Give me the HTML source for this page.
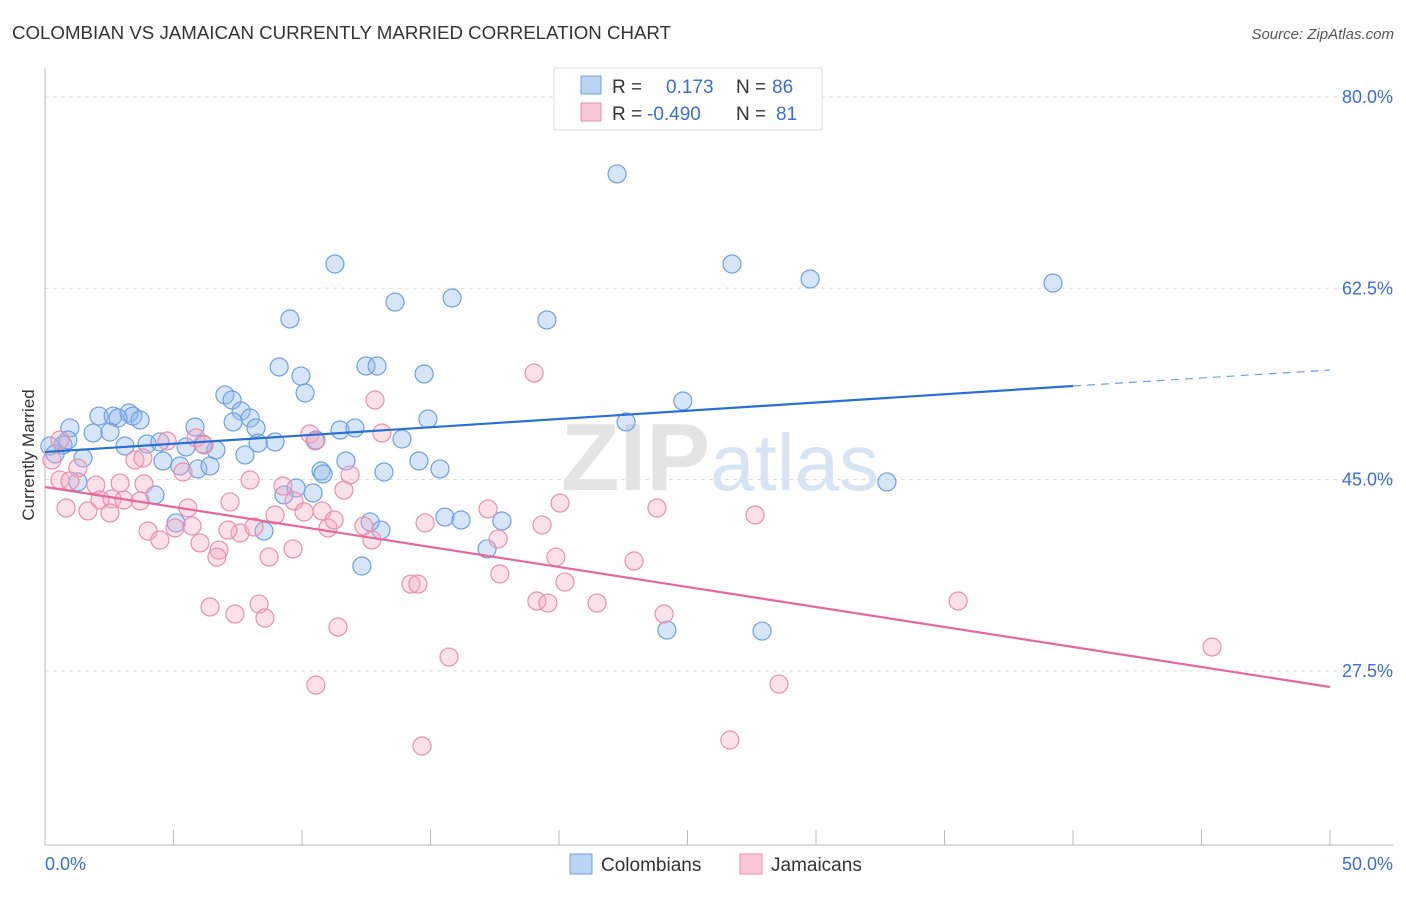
<!DOCTYPE html>
<html><head><meta charset="utf-8"><style>
body{margin:0;background:#fff;font-family:"Liberation Sans",sans-serif;}
svg text{font-family:"Liberation Sans",sans-serif;}
</style></head><body>
<svg id="chart" width="1406" height="892">
<text x="12" y="39" font-size="18" fill="#333" textLength="659" lengthAdjust="spacingAndGlyphs">COLOMBIAN VS JAMAICAN CURRENTLY MARRIED CORRELATION CHART</text>
<text x="1394" y="39" font-size="15" fill="#555" font-style="italic" text-anchor="end">Source: ZipAtlas.com</text>
<g id="grid"></g>
<text x="720" y="490" font-size="96" fill="#e4e4e4" text-anchor="middle" font-weight="bold" font-family="Liberation Serif">ZIP<tspan fill="#d6e4f4" font-family="Liberation Sans" font-weight="normal" font-size="80">atlas</tspan></text>
<g id="pts"></g>
<g id="lines"></g>
<text transform="translate(34,455) rotate(-90)" font-size="17" fill="#333" text-anchor="middle">Currently Married</text>
<g>
<rect x="554" y="68" width="268" height="62" fill="#fff" stroke="#ddd"/>
<rect x="581" y="76" width="20" height="18" fill="#bcd4f4" stroke="#6fa0e0"/>
<rect x="581" y="103" width="20" height="18" fill="#fbc8d8" stroke="#e890ad"/>
<text x="612" y="93" font-size="19" fill="#333">R = <tspan x="666" fill="#3a6fd0">0.173</tspan><tspan x="736" fill="#333">N = </tspan><tspan x="772" fill="#3a6fd0">86</tspan></text>
<text x="612" y="120" font-size="19" fill="#333">R = <tspan x="647" fill="#3a6fd0">-0.490</tspan><tspan x="736" fill="#333">N = </tspan><tspan x="776" fill="#3a6fd0">81</tspan></text>
</g>
<g>
<rect x="570" y="854" width="22" height="20" fill="#bcd4f4" stroke="#6fa0e0"/>
<text x="601" y="871" font-size="19" fill="#333">Colombians</text>
<rect x="740" y="854" width="22" height="20" fill="#fbc8d8" stroke="#e890ad"/>
<text x="771" y="871" font-size="19" fill="#333">Jamaicans</text>
</g>
</svg>
<script>
const yTicks=[80,62.5,45,27.5];
const yTickLabels=["80.0%","62.5%","45.0%","27.5%"];
const xTickLabels=["0.0%","50.0%"];
const blueX=[22.26,11.28,26.73,29.77,39.22,15.84,13.62,9.53,19.53,9.11,12.49,12.92,14.75,9.96,10.12,7.00,7.28,24.82,7.63,7.98,14.90,5.84,0.97,2.10,2.65,3.27,3.42,3.70,2.84,1.87,2.53,7.32,8.21,11.48,12.06,13.89,22.61,10.54,8.95,8.29,3.11,3.97,4.47,5.49,6.15,6.65,7.78,0.70,0.19,0.39,1.48,4.59,5.25,5.95,6.42,11.71,14.55,15.37,13.19,10.74,10.82,32.76,1.28,4.28,9.30,9.77,10.43,15.56,16.19,17.78,12.65,13.07,8.52,5.10,17.20,12.33,24.20,27.90,0.89];
const blueY=[72.96,64.72,64.72,63.35,62.98,61.61,61.24,59.69,59.60,55.30,55.39,55.39,54.66,54.47,52.92,52.74,52.28,52.19,51.27,50.63,50.54,49.81,49.72,50.81,50.81,51.09,50.81,50.45,50.63,49.26,49.35,50.27,49.72,49.53,49.72,48.71,50.27,48.62,48.44,48.34,48.07,48.25,48.44,47.98,48.25,47.70,47.25,48.16,48.07,47.34,46.97,46.70,46.24,45.97,46.24,46.70,46.70,45.97,45.69,45.78,45.51,44.78,44.78,43.59,43.59,44.23,43.77,41.57,41.30,41.21,41.12,40.38,40.29,41.03,38.65,37.09,31.23,31.14,48.62];
const pinkX=[19.03,12.84,10.31,13.11,10.51,0.58,0.27,1.28,3.50,5.37,5.88,6.19,4.75,3.81,11.87,11.63,7.98,7.20,9.26,9.69,0.58,0.97,1.98,2.92,3.85,2.14,2.61,3.07,0.82,1.67,2.53,3.70,5.56,5.06,4.01,4.47,6.03,6.77,6.69,7.59,8.13,8.72,8.95,9.65,10.08,10.78,11.01,11.25,12.41,12.72,14.79,17.24,17.63,20.04,19.34,19.88,17.70,14.24,14.51,20.23,19.14,19.57,21.48,22.92,23.81,24.09,27.63,35.53,45.41,6.42,7.39,8.33,8.56,11.40,15.72,10.54,28.56,14.67,26.65,5.72,7.12];
const pinkY=[54.75,52.28,49.17,49.26,48.53,48.62,46.79,46.06,46.79,45.69,48.80,48.16,48.53,46.97,45.42,44.04,44.96,42.95,44.41,43.04,44.96,44.87,44.50,44.68,44.59,43.13,43.22,43.13,42.40,42.13,41.94,43.04,42.40,40.57,40.29,39.47,39.20,38.55,37.91,40.11,40.66,37.91,41.76,38.65,42.04,42.13,40.57,41.30,40.75,39.47,41.03,42.31,39.56,42.85,40.84,37.91,36.36,35.44,35.44,35.62,33.89,33.70,33.70,37.55,42.40,32.70,41.76,33.89,29.68,33.34,32.70,33.61,32.33,31.51,28.76,26.20,26.29,20.62,21.17,40.75,40.38];
const blueTrend=[47.52,53.56,55.02];
const pinkTrend=[44.32,26.02];
const X=v=>45+v/50*1285;
const Y=v=>97+(80-v)*10.93;
const NS="http://www.w3.org/2000/svg";
function mk(t,a,p){const e=document.createElementNS(NS,t);for(const k in a)e.setAttribute(k,a[k]);p.appendChild(e);return e;}
const grid=document.getElementById('grid');
yTicks.forEach((t,i)=>{
 const l=mk('line',{x1:45,x2:1393,y1:Y(t),y2:Y(t),stroke:'#ddd','stroke-dasharray':'4,4'},grid);
 
 
 const tx=mk('text',{x:1393,y:Y(t)+6,'font-size':18,fill:'#3a6fd0','text-anchor':'end'},grid);
 tx.textContent=yTickLabels[i];
 
 
});
const ax=mk('line',{x1:45,x2:45,y1:68,y2:845,stroke:'#bbb'},grid);


const bx=mk('line',{x1:45,x2:1393,y1:845,y2:845,stroke:'#bbb'},grid);


for(let i=0;i<=10;i++){
 const t=mk('line',{x1:X(i*5),x2:X(i*5),y1:830,y2:845,stroke:'#bbb'},grid);
 
 
}
[[0,'start',45],[50,'end',1393]].forEach((d,i)=>{
 const tx=mk('text',{x:d[2],y:870,'font-size':18,fill:'#3a6fd0','text-anchor':d[1]},grid);
 tx.textContent=xTickLabels[i];
 
 
});
const pts=document.getElementById('pts');
blueX.forEach((x,i)=>{
 const c=mk('circle',{cx:X(x),cy:Y(blueY[i]),r:9,fill:'rgba(140,180,235,0.35)',stroke:'#6fa0e0','stroke-width':1.2},pts);
 
 
});
pinkX.forEach((x,i)=>{
 const c=mk('circle',{cx:X(x),cy:Y(pinkY[i]),r:9,fill:'rgba(245,170,195,0.35)',stroke:'#e890ad','stroke-width':1.2},pts);
 
 
});
const lines=document.getElementById('lines');
const b1=mk('line',{x1:X(0),y1:Y(blueTrend[0]),x2:X(40),y2:Y(blueTrend[1]),stroke:'#2a6fd6','stroke-width':2.2},lines);


const b2=mk('line',{x1:X(40),y1:Y(blueTrend[1]),x2:X(50),y2:Y(blueTrend[2]),stroke:'#6fa0e0','stroke-width':1.2,'stroke-dasharray':'8,6'},lines);


const p1=mk('line',{x1:X(0),y1:Y(pinkTrend[0]),x2:X(50),y2:Y(pinkTrend[1]),stroke:'#e8679a','stroke-width':2.2},lines);


</script>
</body></html>
